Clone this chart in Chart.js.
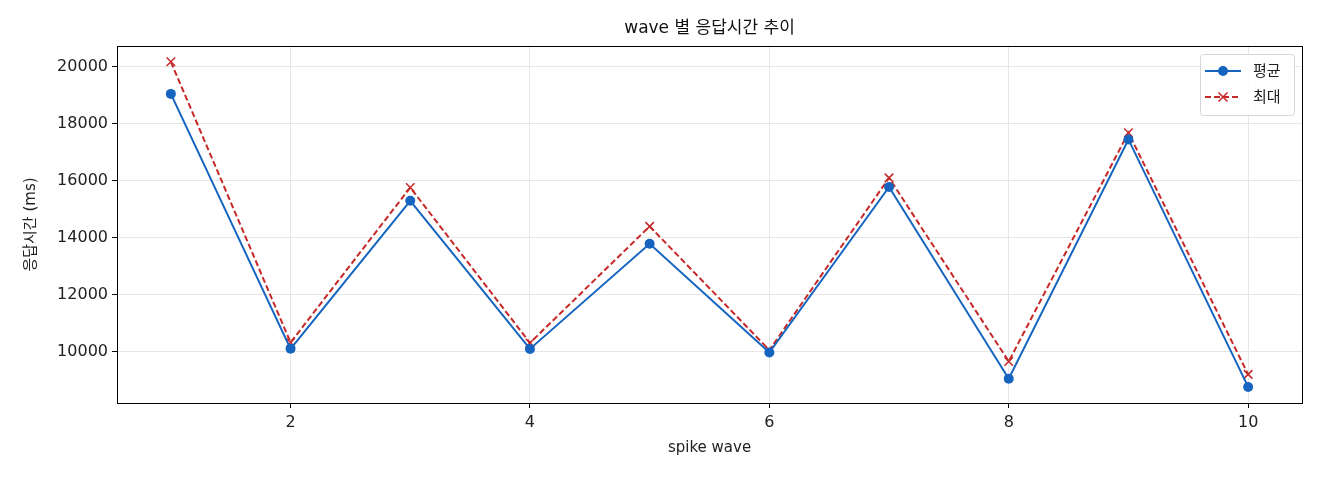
<!DOCTYPE html>
<html>
<head>
<meta charset="utf-8">
<script src="https://cdn.jsdelivr.net/npm/chart.js@4/dist/chart.umd.min.js"></script>
<style>
  html, body { margin: 0; padding: 0; background: #ffffff; }
  #wrap { width: 1320px; height: 480px; }
</style>
</head>
<body>
<div id="wrap"><canvas id="waveChart" width="1320" height="480"></canvas></div>
<script>
// wave 별 응답시간 추이 - mean / max response time per spike wave

const waves = [1, 2, 3, 4, 5, 6, 7, 8, 9, 10];
const avgMs = [19040, 10110, 15296, 10106, 13790, 9980, 15780, 9062, 17445, 8775];
const maxMs = [20165, 10330, 15760, 10317, 14400, 10065, 16098, 9668, 17680, 9215];
const xTicks = [2, 4, 6, 8, 10];
const yTicks = [10000, 12000, 14000, 16000, 18000, 20000];
const chartTitle = 'wave 별 응답시간 추이';

const FONT = '"DejaVu Sans", "Noto Sans CJK KR", sans-serif';
const BLUE = '#1565c0';
const RED = '#c62828';

// --- title, frame + legend, all placed relative to the plot area ---

const framePlugin = {
    id: 'frame',
    afterDraw(chart) {
        const { ctx, chartArea: a } = chart;
        ctx.save();

        // title centred over the plot area
        ctx.fillStyle = '#111';
        ctx.font = '17px ' + FONT;
        ctx.textAlign = 'center';
        ctx.textBaseline = 'middle';
        ctx.fillText(chartTitle, (a.left + a.right) / 2, a.top - 17);
        ctx.textAlign = 'left';

        ctx.strokeStyle = '#000';
        ctx.lineWidth = 1;
        ctx.strokeRect(a.left + 0.5, a.top + 0.5, a.right - a.left, a.bottom - a.top);

        // legend box, top right
        const bx = a.right - 102, by = a.top + 8, bw = 94, bh = 61;
        ctx.fillStyle = 'rgba(255,255,255,0.85)';
        ctx.strokeStyle = '#d6d6d6';
        ctx.beginPath();
        ctx.roundRect(bx + 0.5, by + 0.5, bw, bh, 3);
        ctx.fill();
        ctx.stroke();

        chart.data.datasets.forEach((ds, i) => {
            const yy = by + 17 + i * 26;
            const x0 = bx + 5, x1 = bx + 41, xm = (x0 + x1) / 2;
            ctx.strokeStyle = ds.borderColor;
            ctx.lineWidth = 2;
            ctx.setLineDash(ds.borderDash || []);
            ctx.beginPath();
            ctx.moveTo(x0, yy);
            ctx.lineTo(x1, yy);
            ctx.stroke();
            ctx.setLineDash([]);
            if (ds.pointStyle === 'circle') {
                ctx.fillStyle = ds.borderColor;
                ctx.beginPath();
                ctx.arc(xm, yy, 5, 0, Math.PI * 2);
                ctx.fill();
            } else {
                ctx.lineWidth = 1.5;
                ctx.beginPath();
                ctx.moveTo(xm - 4.5, yy - 4.5); ctx.lineTo(xm + 4.5, yy + 4.5);
                ctx.moveTo(xm - 4.5, yy + 4.5); ctx.lineTo(xm + 4.5, yy - 4.5);
                ctx.stroke();
            }
            ctx.fillStyle = '#222';
            ctx.font = '15px ' + FONT;
            ctx.textBaseline = 'middle';
            ctx.fillText(ds.label, bx + 53, yy + 1);
        });
        ctx.restore();
    }
};

const ctx = document.getElementById('waveChart').getContext('2d');

new Chart(ctx, {
    type: 'line',
    data: {
        datasets: [
            {
                label: '평균',
                data: waves.map((w, i) => ({ x: w, y: avgMs[i] })),
                borderColor: BLUE,
                backgroundColor: BLUE,
                borderWidth: 2,
                pointStyle: 'circle',
                pointRadius: 5,
                pointBorderWidth: 0,
                tension: 0
            },
            {
                label: '최대',
                data: waves.map((w, i) => ({ x: w, y: maxMs[i] })),
                borderColor: RED,
                backgroundColor: RED,
                borderWidth: 2,
                borderDash: [6, 3],
                pointStyle: 'crossRot',
                pointRadius: 6,
                pointBorderWidth: 1.5,
                tension: 0
            }
        ]
    },
    options: {
        responsive: false,
        animation: false,
        devicePixelRatio: 1,
        layout: { padding: { top: 46, right: 18, left: 0, bottom: 0 } },
        scales: {
            x: {
                type: 'linear',
                min: 0.55,
                max: 10.45,
                afterBuildTicks: (s) => { s.ticks = xTicks.map(v => ({ value: v })); },
                afterFit: (s) => { s.height = 77; },
                ticks: { color: '#222', font: { size: 16, family: FONT }, padding: 5, maxRotation: 0 },
                grid: { color: '#e6e6e6', tickColor: '#000', tickLength: 5, lineWidth: 1 },
                border: { display: false },
                title: { display: true, text: 'spike wave', color: '#222', font: { size: 15, family: FONT }, padding: { top: 23, bottom: 23 } }
            },
            y: {
                min: 8212,
                max: 20718,
                afterBuildTicks: (s) => { s.ticks = yTicks.map(v => ({ value: v })); },
                afterFit: (s) => { s.width = 117; },
                ticks: {
                    color: '#222',
                    font: { size: 16, family: FONT },
                    padding: 4,
                    callback: (v) => String(v)
                },
                grid: { color: '#e6e6e6', tickColor: '#000', tickLength: 5, lineWidth: 1 },
                border: { display: false },
                title: { display: true, text: '응답시간 (ms)', color: '#222', font: { size: 15, family: FONT }, padding: { top: 22, bottom: 22 } }
            }
        },
        plugins: {
            legend: { display: false },
            tooltip: { enabled: false },
            title: { display: false }
        }
    },
    plugins: [framePlugin]
});
</script>
</body>
</html>
